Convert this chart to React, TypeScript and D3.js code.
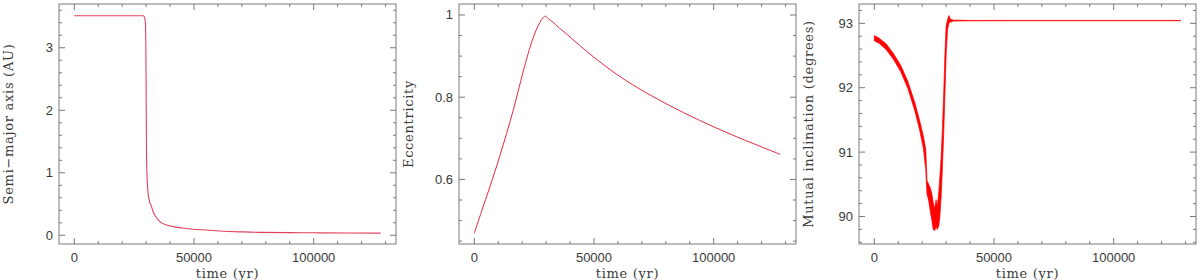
import React from "react";
import * as d3 from "d3";

const timeMajor = [0, 50000, 100000];
const timeMinor = d3.range(0, 130001, 10000);

const smaTime = [0, 10000, 20000, 28800, 29300, 29700, 29900, 30000, 30100, 30200, 30450, 30700, 31300, 32250, 33000, 34000, 36000, 38500, 42000, 46800, 53000, 60700, 70000, 77400, 90000, 100000, 115000, 128000];
const smaVal = [3.513, 3.513, 3.513, 3.512, 3.49, 3.40, 3.0, 2.4, 1.6, 1.2, 0.9, 0.72, 0.56, 0.46, 0.37, 0.30, 0.21, 0.165, 0.135, 0.11, 0.088, 0.069, 0.055, 0.047, 0.043, 0.040, 0.037, 0.035];

const eccTime = [0, 3000, 6500, 10700, 16250, 20400, 24600, 27400, 29000, 29700, 31000, 32900, 35000, 38500, 44000, 49600, 57000, 66250, 80200, 94000, 107900, 121800, 127800];
const eccVal = [0.469, 0.522, 0.582, 0.658, 0.768, 0.862, 0.945, 0.982, 0.995, 0.997, 0.991, 0.982, 0.971, 0.954, 0.926, 0.899, 0.866, 0.830, 0.784, 0.744, 0.708, 0.675, 0.661];

const incTime = [0, 2000, 5000, 8000, 11000, 14000, 17000, 19000, 20500, 21500, 22000, 22700, 23300, 24000, 24600, 25200, 25800, 26300, 26900, 27400, 27900, 28400, 29000, 29500, 30000, 30600, 31200, 31600, 32000, 33000, 40000, 60000, 90000, 128000];
const incLow = [92.73, 92.69, 92.59, 92.44, 92.25, 91.99, 91.63, 91.33, 91.06, 90.72, 90.35, 90.25, 90.10, 89.95, 89.80, 89.78, 89.85, 89.80, 89.85, 90.00, 90.30, 90.70, 91.30, 91.90, 92.50, 92.90, 93.00, 93.02, 93.02, 93.035, 93.038, 93.04, 93.04, 93.04];
const incHigh = [92.81, 92.77, 92.68, 92.53, 92.35, 92.10, 91.76, 91.48, 91.25, 91.04, 90.56, 90.50, 90.45, 90.36, 90.22, 90.12, 90.26, 90.16, 90.36, 90.62, 90.92, 91.32, 91.92, 92.52, 92.96, 93.06, 93.12, 93.08, 93.06, 93.05, 93.045, 93.045, 93.045, 93.045];

const smaYMajor = [0, 1, 2, 3];
const eccYMajor = [0.6, 0.8, 1];
const incYMajor = [90, 91, 92, 93];

const W = 1200;
const H = 280;
const top = 4;
const bottom = 244;

type Panel = {
  x0: number;
  label: string;
  yDomain: [number, number];
  yMajor: number[];
  yMinorStep: number;
  fmt: (v: number) => string;
};

const panels: Panel[] = [
  { x0: 0, label: "Semi\u2212major axis (AU)", yDomain: [-0.139, 3.70], yMajor: smaYMajor, yMinorStep: 0.2, fmt: (v) => String(v) },
  { x0: 400, label: "Eccentricity", yDomain: [0.443, 1.0267], yMajor: eccYMajor, yMinorStep: 0.05, fmt: (v) => (v === 1 ? "1" : v.toFixed(1)) },
  { x0: 800, label: "Mutual inclination (degrees)", yDomain: [89.573, 93.30], yMajor: incYMajor, yMinorStep: 0.2, fmt: (v) => String(v) },
];

const frameColor = "#7a7a7a";
const textColor = "#3a3a3a";

function PanelView({ p, idx }: { p: Panel; idx: number }) {
  const left = p.x0 + 59;
  const right = p.x0 + 396;
  const x = d3.scaleLinear().domain([-6400, 134400]).range([left, right]);
  const y = d3.scaleLinear().domain(p.yDomain).range([bottom, top]);

  const yMinor: number[] = [];
  const start = Math.ceil(p.yDomain[0] / p.yMinorStep - 1e-9);
  const end = Math.floor(p.yDomain[1] / p.yMinorStep + 1e-9);
  for (let k = start; k <= end; k++) yMinor.push(+(k * p.yMinorStep).toFixed(6));

  const ticks: JSX.Element[] = [];
  timeMinor.forEach((t, i) => {
    const isMajor = timeMajor.includes(t);
    const len = isMajor ? 6 : 3;
    const xx = x(t);
    ticks.push(<line key={"xb" + i} x1={xx} x2={xx} y1={bottom} y2={bottom - len} />);
    ticks.push(<line key={"xt" + i} x1={xx} x2={xx} y1={top} y2={top + len} />);
  });
  yMinor.forEach((v, i) => {
    const isMajor = p.yMajor.some((m) => Math.abs(m - v) < 1e-6);
    const len = isMajor ? 6 : 3;
    const yy = y(v);
    ticks.push(<line key={"yl" + i} x1={left} x2={left + len} y1={yy} y2={yy} />);
    ticks.push(<line key={"yr" + i} x1={right} x2={right - len} y1={yy} y2={yy} />);
  });

  let marks: JSX.Element | null = null;
  if (idx === 0) {
    const line = d3.line<number>().x((_, i) => x(smaTime[i])).y((d) => y(d)).curve(d3.curveMonotoneX);
    marks = <path d={line(smaVal) || ""} fill="none" stroke="#e2405c" strokeWidth={1.1} />;
  } else if (idx === 1) {
    const line = d3.line<number>().x((_, i) => x(eccTime[i])).y((d) => y(d)).curve(d3.curveCatmullRom.alpha(0.5));
    marks = <path d={line(eccVal) || ""} fill="none" stroke="#e8283c" strokeWidth={1} />;
  } else {
    const area = d3
      .area<number>()
      .x((t) => x(t))
      .y0((_, i) => y(incLow[i]))
      .y1((_, i) => y(incHigh[i]));
    marks = <path d={area(incTime) || ""} fill="#ff0000" stroke="#ff0000" strokeWidth={0.7} strokeLinejoin="round" />;
  }

  return (
    <g>
      {marks}
      <rect x={left} y={top} width={right - left} height={bottom - top} fill="none" stroke={frameColor} strokeWidth={1} />
      <g stroke={frameColor} strokeWidth={1}>{ticks}</g>
      <g fill={textColor} fontFamily="Liberation Sans, Arial, sans-serif" fontSize={13}>
        {timeMajor.map((t) => (
          <text key={"xl" + t} x={x(t)} y={262} textAnchor="middle">{String(t)}</text>
        ))}
        {p.yMajor.map((v) => (
          <text key={"ylab" + v} x={left - 6} y={y(v) + 4.5} textAnchor="end">{p.fmt(v)}</text>
        ))}
      </g>
      <g fill={textColor} fontFamily="DejaVu Serif, serif" fontSize={13} letterSpacing={0.7}>
        <text x={(left + right) / 2} y={278} textAnchor="middle">time (yr)</text>
        <text transform={`translate(${p.x0 + 13},${(top + bottom) / 2}) rotate(-90)`} textAnchor="middle">{p.label}</text>
      </g>
    </g>
  );
}

export default function App() {
  return (
    <svg width={W} height={H} style={{ position: "absolute", left: 0, top: 0, background: "#fff" }}>
      <rect width={W} height={H} fill="#fff" />
      {panels.map((p, i) => (
        <PanelView key={i} p={p} idx={i} />
      ))}
    </svg>
  );
}
